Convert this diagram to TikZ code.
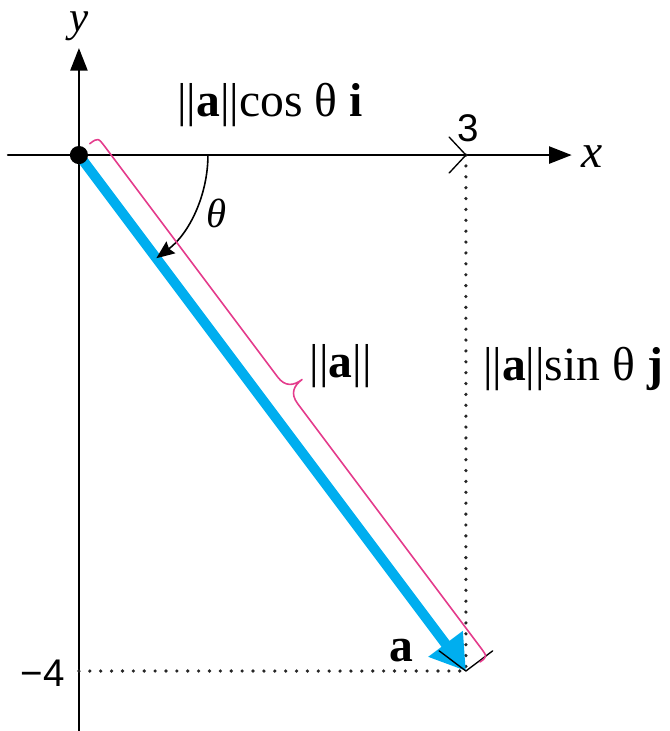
\documentclass[tikz,border=0pt]{standalone}
\usepackage{fontspec}
\setmainfont{Liberation Serif}
\newfontfamily\numfont{Liberation Sans}
\usetikzlibrary{arrows.meta}
\definecolor{veccyan}{RGB}{0,174,239}
\definecolor{bracepink}{RGB}{228,60,140}

\begin{document}
\begin{tikzpicture}[x=2cm,y=2cm,line cap=round,line join=round]
  \tikzset{axis/.style={draw=black,line width=1.1pt,-{Triangle[length=10pt,width=7.5pt]}},
    vec/.style={draw=veccyan,line width=4.4pt,-{Triangle[length=15pt,width=18pt,fill=veccyan]}},
    guide/.style={draw=black!85,line width=1.6pt,dash pattern=on 0pt off 4.8pt},
    tickmark/.style={draw=black,line width=0.6pt},
    anglearc/.style={draw=black,line width=0.7pt,-{Stealth[length=8pt,width=6.5pt,inset=1pt]}},
    brace/.style={draw=bracepink,line width=0.7pt,fill=none},
    lab/.style={font=\fontsize{21}{24}\selectfont,inner sep=0pt},
    num/.style={font=\fontsize{17}{20}\selectfont\numfont,inner sep=0pt}}
  \useasboundingbox (-0.612,-4.465) rectangle (4.581,1.202);
  \coordinate (O) at (0,0);
  \coordinate (X3) at (3,0);
  \coordinate (Y4) at (0,-4);
  \coordinate (A) at (3,-4);
  \coordinate (xs) at (-0.55,0);
  \coordinate (xe) at (3.82,0);
  \coordinate (ys) at (0,-4.47);
  \coordinate (ye) at (0,0.83);
  \coordinate (t0) at (1,0);
  % axes and dotted projections
  \draw[axis] (xs) -- (xe);
  \draw[axis] (ys) -- (ye);
  \draw[guide] (X3) -- (A);
  \draw[guide] (Y4) -- (A);
  \draw[vec] (O) -- (A);
  \fill (O) circle[radius=4pt];
  % end marks of the projections
  \draw[tickmark] (X3) ++(133:0.19) -- (X3) -- ++(227:0.19);
  \draw[tickmark] (A) ++(143:0.26) -- (A) -- ++(37:0.26);
  \draw[anglearc] (t0) arc[start angle=0,end angle=-53.13,radius=1];
  % brace along the vector, in the vector's own frame
  \begin{scope}[rotate=-53.13]
    \draw[brace] (-0.02,0.12) .. controls (-0.02,0.2) .. (0.08,0.2) -- (2.3,0.2)
      .. controls (2.4,0.2) and (2.43,0.26) .. (2.43,0.34)
      .. controls (2.43,0.26) and (2.46,0.2) .. (2.56,0.2) -- (4.92,0.2)
      .. controls (5.01,0.2) .. (5.01,0.13);
  \end{scope}
  \node[lab] (xlab) at (3.98,-0.01) {\itshape x};
  \node[lab,font=\fontsize{19}{22}\selectfont] (ylab) at (0,1.0) {\itshape y};
  \node[lab,font=\fontsize{18}{22}\selectfont] (thlab) at (1.07,-0.45) {\itshape θ};
  \node[num] (three) at (3.02,0.21) {3};
  \node[num] (four) at (-0.28,-4.02) {−4};
  \node[lab] (cosl) at (1.48,0.39) {||\textbf{a}||cos θ \textbf{i}};
  \node[lab] (sinl) at (3.83,-1.66) {||\textbf{a}||sin θ \textbf{j}};
  \node[lab] (norml) at (2.03,-1.64) {||\textbf{a}||};
  \node[lab] (alab) at (2.5,-3.84) {\textbf{a}};
\end{tikzpicture}
\end{document}
